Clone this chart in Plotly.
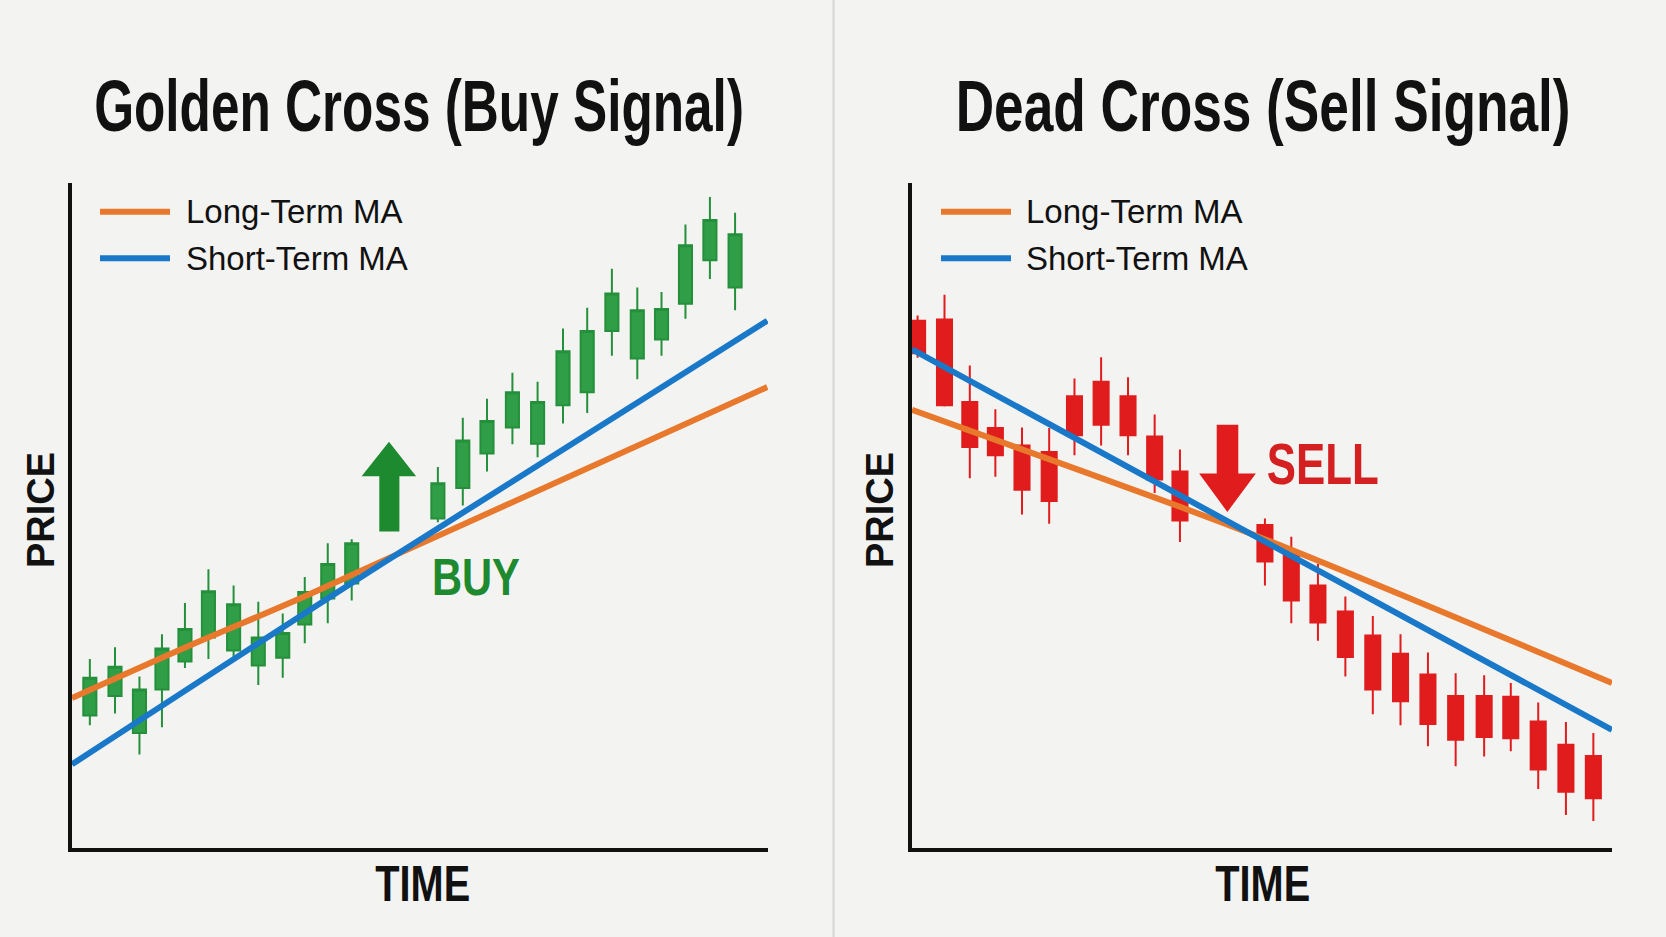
import json
import plotly.graph_objects as go

W, H = 1666, 937

# ---------------- Golden Cross (left) ----------------
buy_time = [0, 1.04, 2.05, 2.98, 3.93, 4.90, 5.94, 6.96, 7.97, 8.88, 9.83, 10.82,
            14.38, 15.41, 16.41, 17.46, 18.50, 19.55, 20.55, 21.57, 22.62, 23.62, 24.61, 25.62, 26.66]
buy_open = [20.0, 23.0, 17.3, 24.0, 28.3, 32.0, 30.0, 27.7, 28.9, 34.0, 38.0, 40.3,
            50.3, 55.0, 60.3, 64.3, 61.8, 67.7, 69.7, 79.1, 74.9, 77.8, 83.3, 90.0, 85.8]
buy_high = [28.7, 30.5, 26.0, 32.5, 37.3, 42.5, 40.0, 37.5, 35.7, 41.3, 46.5, 47.1,
            58.2, 65.8, 68.7, 72.7, 71.3, 79.5, 82.7, 88.7, 85.8, 85.1, 95.5, 99.7, 97.3]
buy_low = [18.5, 20.3, 14.0, 18.2, 27.3, 28.7, 29.0, 24.7, 25.8, 31.1, 34.2, 37.7,
           49.7, 52.3, 57.5, 61.7, 59.7, 64.9, 66.5, 75.3, 71.7, 75.3, 81.0, 87.1, 82.3]
buy_close = [25.8, 27.5, 24.0, 30.3, 33.3, 39.1, 37.1, 32.0, 32.7, 39.0, 43.3, 46.5,
             55.7, 62.3, 65.3, 69.7, 68.2, 76.0, 79.1, 84.9, 82.3, 82.5, 92.3, 96.2, 94.0]

buy_long_ma_t = [-0.74, 4.46, 8.25, 12.05, 27.99]
buy_long_ma = [22.7, 31.3, 37.3, 43.7, 70.5]
buy_short_ma_t = [-0.74, 12.05, 27.99]
buy_short_ma = [12.5, 43.3, 80.7]

buy_arrow_t = [11.96, 12.79, 12.79, 13.48, 12.36, 11.23, 11.96, 11.96]
buy_arrow_p = [48.3, 48.3, 56.8, 56.8, 62.1, 56.8, 56.8, 48.3]

# ---------------- Dead Cross (right) ----------------
sell_time = [-0.06, 0.95, 1.90, 2.86, 3.86, 4.88, 5.83, 6.83, 7.84, 8.84, 9.79,
             12.98, 13.97, 14.97, 16.0, 17.03, 18.07, 19.10, 20.14, 21.21, 22.21, 23.24, 24.28, 25.31]
sell_open = [80.7, 80.9, 68.2, 64.2, 61.5, 60.5, 69.1, 71.3, 69.1, 62.9, 57.5,
             49.3, 45.1, 40.0, 36.0, 32.3, 29.5, 26.3, 23.0, 23.0, 22.9, 19.1, 15.5, 13.8]
sell_high = [81.5, 84.7, 73.8, 67.1, 64.3, 64.2, 71.8, 75.1, 72.0, 66.3, 60.9,
             50.3, 47.5, 43.3, 38.3, 35.3, 32.5, 29.7, 26.5, 26.2, 25.0, 22.0, 19.0, 17.3]
sell_low = [75.0, 67.5, 56.5, 56.7, 50.9, 49.5, 60.0, 61.5, 60.0, 54.2, 46.7,
            40.0, 34.2, 31.5, 26.0, 20.2, 18.5, 15.3, 12.2, 13.7, 14.5, 8.7, 4.7, 3.8]
sell_close = [75.7, 67.7, 61.3, 60.0, 54.7, 53.0, 63.1, 64.7, 63.1, 56.3, 50.0,
              43.7, 37.7, 34.3, 29.0, 24.0, 22.2, 18.7, 16.3, 16.7, 16.5, 11.7, 8.3, 7.3]

sell_long_ma_t = [-0.27, 6.17, 12.55, 26.01]
sell_long_ma = [67.0, 57.5, 47.8, 25.0]
sell_short_ma_t = [-0.27, 12.55, 26.01]
sell_short_ma = [76.3, 47.7, 17.8]

sell_arrow_t = [11.17, 11.98, 11.98, 12.64, 11.57, 10.51, 11.17, 11.17]
sell_arrow_p = [64.7, 64.7, 57.2, 57.2, 51.3, 57.2, 57.2, 64.7]

titles = ["Golden Cross (Buy Signal)", "Dead Cross (Sell Signal)"]
legend_labels = ["Long-Term MA", "Short-Term MA"]

# ---------------- styles ----------------
BG = "#f3f3f1"
INK = "#111111"
ORANGE = "#e8782c"
BLUE = "#1a78c8"
GREEN = "#2f9e46"
GREEN_EDGE = "#25903b"
GREEN_DARK = "#1e8a2f"
RED = "#e01c1c"
RED_DARK = "#d42020"
SANS = "Liberation Sans, Arial, sans-serif"

# condensed-looking texts: rendered width (px) the bold faces are squeezed to
condensed_width = {titles[0]: 650, titles[1]: 615, "TIME": 95, "BUY": 88, "SELL": 112}

fig = go.Figure()

fig.add_trace(go.Candlestick(
    x=buy_time, open=buy_open, high=buy_high, low=buy_low, close=buy_close,
    xaxis="x", yaxis="y", whiskerwidth=0, showlegend=False, name="Price",
    increasing=dict(line=dict(color=GREEN_EDGE, width=2), fillcolor=GREEN),
    decreasing=dict(line=dict(color=GREEN_EDGE, width=2), fillcolor=GREEN)))
fig.add_trace(go.Scatter(x=buy_long_ma_t, y=buy_long_ma, mode="lines", xaxis="x", yaxis="y",
                         line=dict(color=ORANGE, width=6, shape="spline"), showlegend=False,
                         name=legend_labels[0]))
fig.add_trace(go.Scatter(x=buy_short_ma_t, y=buy_short_ma, mode="lines", xaxis="x", yaxis="y",
                         line=dict(color=BLUE, width=6, shape="spline"), showlegend=False,
                         name=legend_labels[1]))
fig.add_trace(go.Scatter(x=buy_arrow_t, y=buy_arrow_p, mode="lines", fill="toself",
                         fillcolor=GREEN_DARK, line=dict(width=0, color=GREEN_DARK),
                         xaxis="x", yaxis="y", showlegend=False, hoverinfo="skip"))

fig.add_trace(go.Candlestick(
    x=sell_time, open=sell_open, high=sell_high, low=sell_low, close=sell_close,
    xaxis="x2", yaxis="y2", whiskerwidth=0, showlegend=False, name="Price",
    increasing=dict(line=dict(color=RED, width=2), fillcolor=RED),
    decreasing=dict(line=dict(color=RED, width=2), fillcolor=RED)))
fig.add_trace(go.Scatter(x=sell_long_ma_t, y=sell_long_ma, mode="lines", xaxis="x2", yaxis="y2",
                         line=dict(color=ORANGE, width=6, shape="spline"), showlegend=False,
                         name=legend_labels[0]))
fig.add_trace(go.Scatter(x=sell_short_ma_t, y=sell_short_ma, mode="lines", xaxis="x2", yaxis="y2",
                         line=dict(color=BLUE, width=6, shape="spline"), showlegend=False,
                         name=legend_labels[1]))
fig.add_trace(go.Scatter(x=sell_arrow_t, y=sell_arrow_p, mode="lines", fill="toself",
                         fillcolor=RED, line=dict(width=0, color=RED),
                         xaxis="x2", yaxis="y2", showlegend=False, hoverinfo="skip"))


def px_x(v):
    return v / W


def px_y(v):
    return 1 - v / H


axis_common = dict(showline=True, linecolor=INK, linewidth=4, showgrid=False, zeroline=False,
                   showticklabels=False, ticks="", fixedrange=True)

y_dom = [px_y(848), px_y(183)]
fig.update_layout(
    width=W, height=H,
    margin=dict(l=0, r=0, t=0, b=0),
    paper_bgcolor=BG, plot_bgcolor=BG,
    boxgap=0.15,
    showlegend=False,
    xaxis=dict(domain=[px_x(72), px_x(768)], range=[-0.737, 28.02], anchor="y",
               rangeslider=dict(visible=False), **axis_common),
    yaxis=dict(domain=y_dom, range=[-0.36, 101.87], anchor="x", **axis_common),
    xaxis2=dict(domain=[px_x(912), px_x(1612)], range=[-0.27, 26.01], anchor="y2",
                rangeslider=dict(visible=False), **axis_common),
    yaxis2=dict(domain=y_dom, range=[-0.36, 101.87], anchor="x2", **axis_common),
)

shapes = [dict(type="line", xref="paper", yref="paper", x0=px_x(833.5), x1=px_x(833.5),
               y0=0, y1=1, line=dict(color="#d6d6d6", width=2), layer="below")]
annotations = []

panels = [
    dict(title_x=419, leg_x0=100, leg_x1=170, leg_tx=184, price_x=41, time_x=422),
    dict(title_x=1263, leg_x0=941, leg_x1=1011, leg_tx=1024, price_x=880, time_x=1262),
]
for i, pnl in enumerate(panels):
    annotations.append(dict(text=titles[i], xref="paper", yref="paper",
                            x=px_x(pnl["title_x"]), y=px_y(106), xanchor="center", yanchor="middle",
                            showarrow=False,
                            font=dict(family=SANS, size=72, color=INK, weight="bold")))
    for j, (yy, col) in enumerate([(211.7, ORANGE), (258.3, BLUE)]):
        shapes.append(dict(type="line", xref="paper", yref="paper",
                           x0=px_x(pnl["leg_x0"]), x1=px_x(pnl["leg_x1"]),
                           y0=px_y(yy), y1=px_y(yy), line=dict(color=col, width=6)))
        annotations.append(dict(text=legend_labels[j], xref="paper", yref="paper",
                                x=px_x(pnl["leg_tx"]), y=px_y(yy), xanchor="left", yanchor="middle",
                                showarrow=False, font=dict(family=SANS, size=33, color=INK)))
    annotations.append(dict(text="PRICE", xref="paper", yref="paper", x=px_x(pnl["price_x"]),
                            y=px_y(510), xanchor="center", yanchor="middle", textangle=-90,
                            showarrow=False,
                            font=dict(family=SANS, size=38, color=INK, weight="bold")))
    annotations.append(dict(text="TIME", xref="paper", yref="paper", x=px_x(pnl["time_x"]),
                            y=px_y(884), xanchor="center", yanchor="middle", showarrow=False,
                            font=dict(family=SANS, size=50, color=INK, weight="bold")))

annotations.append(dict(text="BUY", xref="paper", yref="paper", x=px_x(476), y=px_y(577),
                        xanchor="center", yanchor="middle", showarrow=False,
                        font=dict(family=SANS, size=52, color=GREEN_DARK, weight="bold")))
annotations.append(dict(text="SELL", xref="paper", yref="paper", x=px_x(1323), y=px_y(464),
                        xanchor="center", yanchor="middle", showarrow=False,
                        font=dict(family=SANS, size=57, color=RED_DARK, weight="bold")))

fig.update_layout(shapes=shapes, annotations=annotations)

post_js = """
var targets = %s;
function squeezeTexts() {
  document.querySelectorAll('text.annotation-text').forEach(function (t) {
    var key = t.textContent;
    if (!(key in targets)) return;
    t.removeAttribute('transform');
    var b = t.getBBox();
    if (!b.width) return;
    var s = targets[key] / b.width;
    var cx = b.x + b.width / 2;
    t.setAttribute('transform', 'translate(' + (cx * (1 - s)) + ',0) scale(' + s + ',1)');
  });
}
squeezeTexts();
var gd = document.getElementById('{plot_id}');
if (gd && gd.on) { gd.on('plotly_afterplot', squeezeTexts); }
""" % json.dumps(condensed_width)

fig.write_html("out.html", post_script=post_js)
